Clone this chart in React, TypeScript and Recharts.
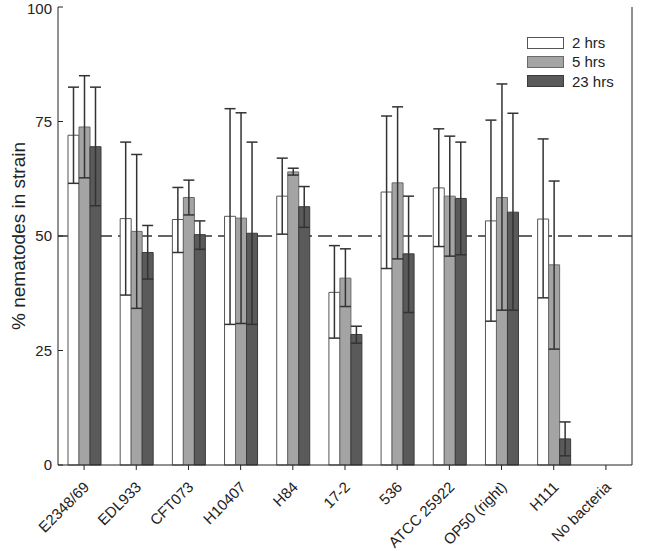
import { BarChart, Bar, XAxis, YAxis, ErrorBar, CartesianGrid } from 'recharts';

const strains = ['E2348/69', 'EDL933', 'CFT073', 'H10407', 'H84', '17-2', '536', 'ATCC 25922', 'OP50 (right)', 'H111', 'No bacteria'];

// mean % of nematodes, and error bar low / high ends, per time point
const hrs2 = [72.0, 53.8, 53.6, 54.3, 58.7, 37.7, 59.6, 60.5, 53.3, 53.7, null];
const hrs2Low = [61.5, 37.1, 46.4, 30.7, 50.4, 27.7, 42.9, 47.7, 31.4, 36.5, null];
const hrs2High = [82.5, 70.5, 60.6, 77.8, 67.0, 47.9, 76.2, 73.4, 75.3, 71.2, null];

const hrs5 = [73.8, 51.0, 58.4, 53.9, 64.0, 40.8, 61.6, 58.7, 58.4, 43.7, null];
const hrs5Low = [62.7, 34.2, 54.6, 30.9, 63.3, 34.6, 45.0, 45.6, 33.8, 25.3, null];
const hrs5High = [85.0, 67.8, 62.2, 76.9, 64.8, 47.2, 78.2, 71.8, 83.2, 62.0, null];

const hrs23 = [69.5, 46.4, 50.3, 50.6, 56.4, 28.5, 46.1, 58.2, 55.2, 5.7, null];
const hrs23Low = [56.6, 40.6, 47.1, 30.7, 51.9, 26.6, 33.3, 45.9, 33.8, 2.0, null];
const hrs23High = [82.5, 52.3, 53.3, 70.5, 60.8, 30.3, 58.7, 70.5, 76.8, 9.4, null];

const leftTicks = [0, 25, 50, 75, 100];
const rightTicks = [0, 25, 50, 75];
const chanceLevel = 50;

const err = (v: number | null, lo: number | null, hi: number | null) =>
  v == null || lo == null || hi == null ? null : [v - lo, hi - v];

const rows = strains.map((name, i) => ({
  name,
  h2: hrs2[i],
  h5: hrs5[i],
  h23: hrs23[i],
  e2: err(hrs2[i], hrs2Low[i], hrs2High[i]),
  e5: err(hrs5[i], hrs5Low[i], hrs5High[i]),
  e23: err(hrs23[i], hrs23Low[i], hrs23High[i]),
}));

const FONT = '"Liberation Sans", Arial, sans-serif';
const INK = '#222';

const series = [
  { key: 'h2', errKey: 'e2', label: '2 hrs', fill: '#ffffff', stroke: '#555' },
  { key: 'h5', errKey: 'e5', label: '5 hrs', fill: '#a4a4a4', stroke: '#6a6a6a' },
  { key: 'h23', errKey: 'e23', label: '23 hrs', fill: '#5a5a5a', stroke: '#3a3a3a' },
];

function StrainTick({ x, y, payload }: any) {
  return (
    <g transform={`translate(${x + 6},${y + 16})`}>
      <text x={0} y={0} textAnchor="end" transform="rotate(-45)" fill={INK} fontSize={15} fontFamily={FONT}>
        {payload.value}
      </text>
    </g>
  );
}

function KeyBox() {
  return (
    <div style={{ position: 'absolute', left: 527, top: 33, fontFamily: FONT, fontSize: 15, color: INK }}>
      {series.map((s) => (
        <div key={s.key} style={{ display: 'flex', alignItems: 'center', height: 19.3 }}>
          <div style={{ width: 35, height: 10, background: s.fill, border: `1px solid ${s.stroke}`, marginRight: 8 }} />
          <span>{s.label}</span>
        </div>
      ))}
    </div>
  );
}

export default function App() {
  return (
    <div style={{ position: 'absolute', left: 0, top: 0, width: 666, height: 551, background: '#fff' }}>
      <BarChart
        width={666}
        height={551}
        data={rows}
        margin={{ top: 7, right: 0, bottom: 0, left: 0 }}
        barCategoryGap={10}
        barGap={0}
      >
        {/* dashed 50% line, drawn as a grid line so it stays behind the bars */}
        <CartesianGrid
          yAxisId="left"
          vertical={false}
          horizontalValues={[chanceLevel]}
          stroke="#333"
          strokeWidth={1.5}
          strokeDasharray="14 6"
        />
        <XAxis
          dataKey="name"
          height={86}
          interval={0}
          tick={<StrainTick />}
          tickSize={5}
          axisLine={{ stroke: INK }}
          tickLine={{ stroke: INK }}
        />
        <YAxis
          yAxisId="left"
          width={58}
          domain={[0, 100]}
          ticks={leftTicks}
          tickSize={-5}
          tickMargin={11}
          axisLine={{ stroke: INK }}
          tickLine={{ stroke: INK }}
          tick={{ fill: INK, fontSize: 15, fontFamily: FONT }}
          label={{
            value: '% nematodes in strain',
            angle: -90,
            position: 'insideLeft',
            offset: 18,
            style: { textAnchor: 'middle', fill: INK, fontSize: 19, fontFamily: FONT },
          }}
        />
        <YAxis
          yAxisId="right"
          orientation="right"
          width={34}
          domain={[0, 100]}
          ticks={rightTicks}
          tickSize={-5}
          tickMargin={13}
          axisLine={{ stroke: INK }}
          tickLine={{ stroke: INK }}
          tick={{ fill: INK, fontSize: 15, fontFamily: FONT, textAnchor: 'start' }}
        />
        {series.map((s) => (
          <Bar
            key={s.key}
            yAxisId="left"
            dataKey={s.key}
            name={s.label}
            fill={s.fill}
            stroke={s.stroke}
            strokeWidth={1}
            isAnimationActive={false}
          >
            <ErrorBar dataKey={s.errKey} width={5.5} stroke="#333" strokeWidth={1.5} direction="y" />
          </Bar>
        ))}
      </BarChart>
      <KeyBox />
    </div>
  );
}
